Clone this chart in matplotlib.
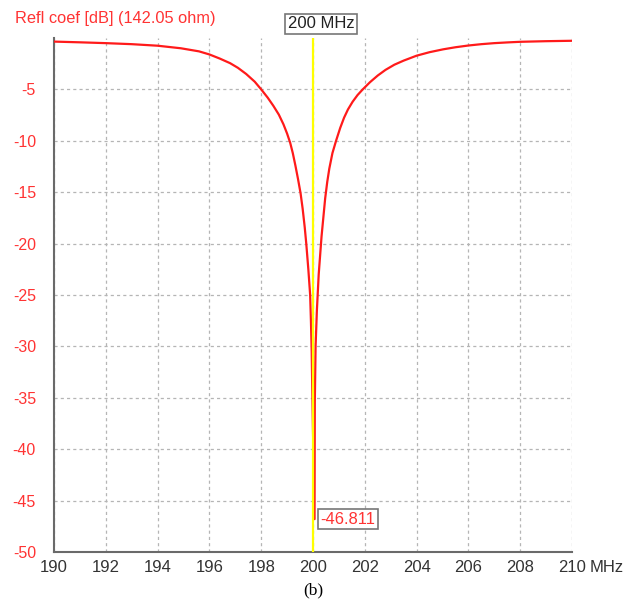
import matplotlib.pyplot as plt

# reflection coefficient sweep
freq_mhz = [190.0, 191.0, 192.0, 193.0, 194.0, 194.9, 195.6, 196.0, 196.4, 196.8,
            197.1, 197.42, 197.75, 198.0, 198.25, 198.47, 198.68, 198.86, 199.0,
            199.12, 199.22, 199.32, 199.42, 199.52, 199.6, 199.68, 199.74, 199.82,
            199.89, 199.92, 199.95, 199.97, 200.06, 200.07, 200.1, 200.15, 200.22,
            200.33, 200.47, 200.55, 200.63, 200.75, 200.89, 201.05, 201.2, 201.35,
            201.53, 201.72, 201.92, 202.2, 202.5, 202.8, 203.14, 203.5, 204.0,
            204.5, 205.03, 205.5, 206.0, 206.5, 207.0, 207.5, 208.0, 209.0, 210.0]
refl_db = [-0.35, -0.42, -0.5, -0.6, -0.75, -1.0, -1.3, -1.6, -2.0, -2.45,
           -2.9, -3.5, -4.25, -5.0, -5.8, -6.6, -7.45, -8.4, -9.3,
           -10.2, -11.2, -12.4, -13.7, -15.1, -16.6, -18.4, -20.0, -22.5,
           -25.0, -27.5, -30.5, -33.9, -46.8, -35.4, -30.0, -26.5, -23.0,
           -19.3, -15.6, -14.0, -12.7, -11.2, -10.0, -8.75, -7.75, -6.95,
           -6.2, -5.55, -5.0, -4.3, -3.65, -3.1, -2.6, -2.2, -1.72,
           -1.38, -1.1, -0.9, -0.73, -0.6, -0.5, -0.43, -0.37, -0.31, -0.27]

marker_freq = 200.0
marker_db = -46.811
x_ticks = list(range(190, 211, 2))
y_ticks = list(range(-50, 0, 5))

plt.rcParams['font.family'] = ['Liberation Sans', 'DejaVu Sans']

fig = plt.figure(figsize=(6.27, 6.03), dpi=100)
ax = fig.add_axes([54 / 627, 1 - 552 / 603, 518 / 627, 514 / 603])

ax.plot(freq_mhz, refl_db, color='#ff1a1a', lw=1.6, zorder=3)
ax.axvline(marker_freq, color='#ffff00', lw=1.6, zorder=4)

ax.set_xlim(190, 210)
ax.set_ylim(-50, 0)
ax.set_xticks(x_ticks)
ax.set_yticks(y_ticks)
ax.set_xticklabels([str(t) for t in x_ticks], fontsize=12, color='#333333')
ax.set_yticklabels([str(t) for t in y_ticks], fontsize=11.5, color='#ff3333')
ax.tick_params(axis='x', length=0, pad=6)
ax.tick_params(axis='y', length=0, pad=13)

ax.grid(True, color='#b5b5b5', linestyle=(0, (2.5, 2.5)), lw=0.9)
for s in ('top', 'right'):
    ax.spines[s].set_visible(False)
for s in ('left', 'bottom'):
    ax.spines[s].set_color('#6a6a6a')
    ax.spines[s].set_linewidth(1.5)

ax.annotate('MHz', xy=(1, 0), xycoords='axes fraction', xytext=(18, -15),
            textcoords='offset pixels', fontsize=12, color='#333333',
            ha='left', va='center')

fig.text(15 / 627, 1 - 18 / 603, 'Refl coef [dB] (142.05 ohm)', color='#ff3333',
         fontsize=11.8, ha='left', va='center')

box = dict(boxstyle='square,pad=0.15', fc='white', ec='#777777', lw=1.2)
ax.annotate(f'{marker_freq:.0f} MHz', xy=(marker_freq, 0), xytext=(8, 14),
            textcoords='offset pixels', fontsize=12, color='#222222',
            ha='center', va='center', bbox=box, annotation_clip=False)
ax.annotate(f'{marker_db:.3f}', xy=(marker_freq, marker_db), xytext=(35, 0),
            textcoords='offset pixels', fontsize=12, color='#ff3333',
            ha='center', va='center', bbox=box)

fig.text(313 / 627, 1 - 590 / 603, '(b)', family=['Liberation Serif'],
         fontsize=12.5, ha='center', va='center')

fig.savefig('out.png', dpi=100)
